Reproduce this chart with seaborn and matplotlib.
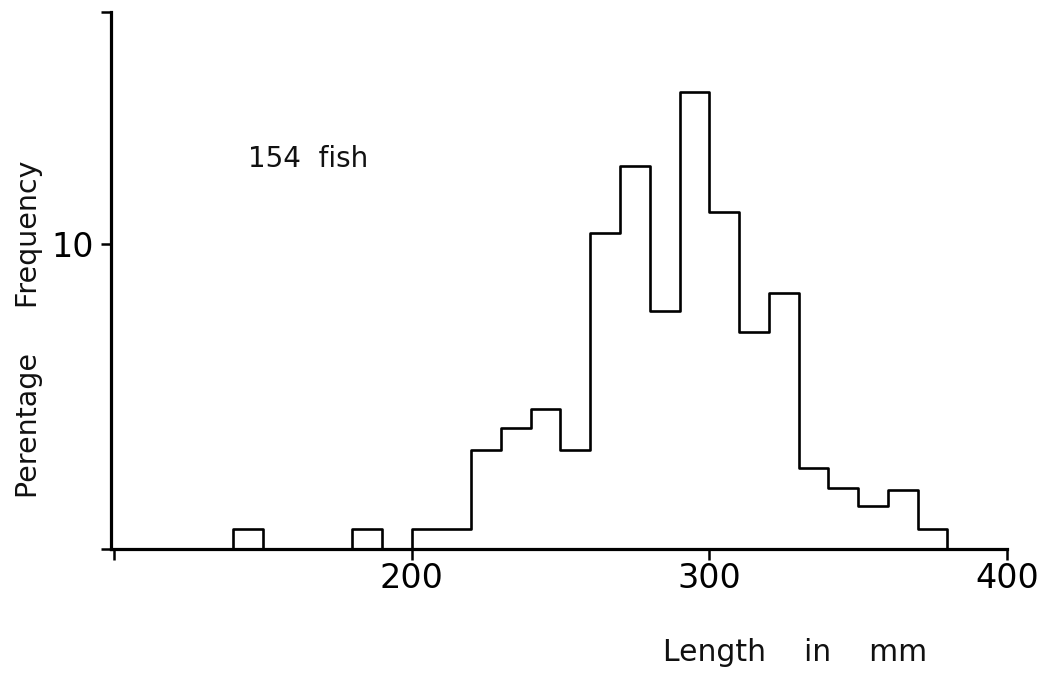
import numpy as np
import seaborn as sns
import matplotlib.pyplot as plt

# length classes (lower edge, mm) and percentage frequency
# (empty classes at both ends so the outline drops to the baseline)
bin_start = [130, 140, 150, 160, 170, 180, 190, 200, 210, 220, 230, 240, 250,
             260, 270, 280, 290, 300, 310, 320, 330, 340, 350, 360, 370, 380]
pct_freq = [0, 0.65, 0, 0, 0, 0.65, 0, 0.65, 0.65, 3.25, 3.95, 4.58, 3.25,
            10.37, 12.56, 7.81, 14.98, 11.06, 7.12, 8.40, 2.65, 2.0, 1.41, 1.95, 0.65, 0]
bin_width = 10
n_fish = 154

x_ticks = [100, 200, 300, 400]
x_ticklabels = ['', '200', '300', '400']
y_top = 17.6
y_ticks = [0, 10, y_top]
y_ticklabels = ['', '10', '']

sns.set_style('ticks')
plt.rcParams['font.family'] = ['DejaVu Sans']

fig = plt.figure(figsize=(10.59, 6.74), dpi=100)
ax = fig.add_axes([111 / 1059, 125 / 674, 896 / 1059, 537 / 674])

centers = np.array(bin_start) + bin_width / 2
edges = list(bin_start) + [bin_start[-1] + bin_width]
sns.histplot(x=centers, weights=pct_freq, bins=edges, element='step',
             fill=False, color='black', linewidth=1.9, ax=ax)

ax.set_xlim(99, 400)
ax.set_ylim(0, y_top)
sns.despine(ax=ax)
for side in ['left', 'bottom']:
    ax.spines[side].set_linewidth(2.3)
    ax.spines[side].set_color('black')
    ax.spines[side].set_zorder(3)

ax.set_xticks(x_ticks)
ax.set_xticklabels(x_ticklabels)
ax.set_yticks(y_ticks)
ax.set_yticklabels(y_ticklabels)
ax.tick_params(axis='x', length=8, width=1.8, pad=1, labelsize=24, colors='black')
ax.tick_params(axis='y', length=7, width=1.8, pad=5.5, labelsize=24, colors='black')

ax.set_xlabel('Length    in    mm', fontsize=21.5, color='#111111', va='center')
ax.xaxis.set_label_coords(0.763, -0.192)
ax.set_ylabel('Perentage     Frequency', fontsize=20.5, color='#111111', va='center')
ax.yaxis.set_label_coords(-0.0915, 0.41)

ax.text(0.153, 0.711, f'{n_fish}  fish', transform=ax.transAxes,
        fontsize=20, color='#111111', ha='left', va='baseline')

fig.savefig('out.png', dpi=100)
